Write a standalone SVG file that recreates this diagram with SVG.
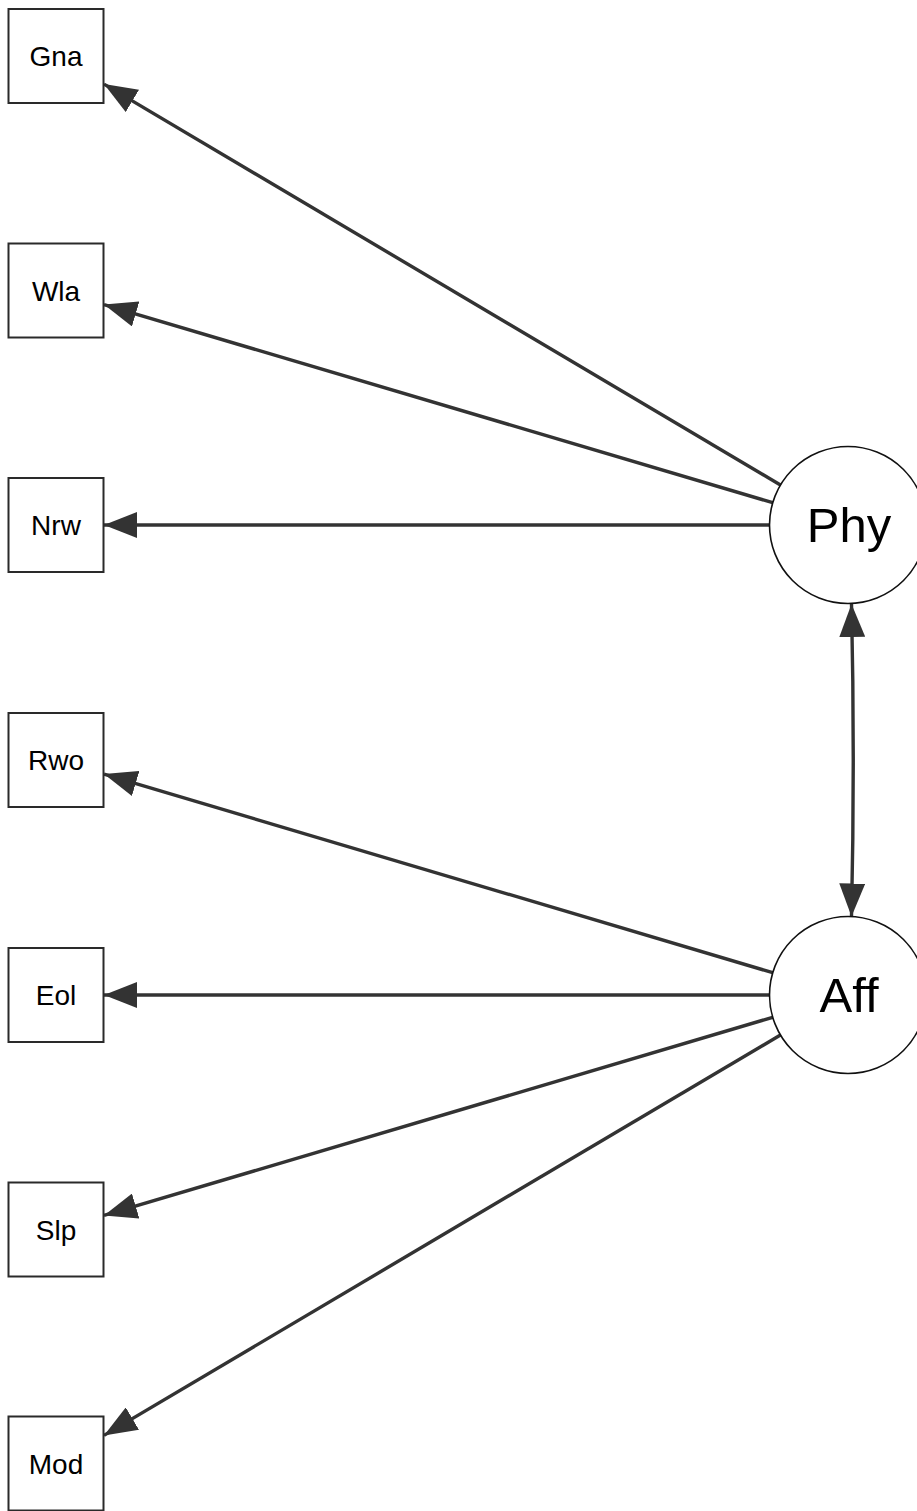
<svg xmlns="http://www.w3.org/2000/svg" width="917" height="1511" viewBox="0 0 917 1511">
<style>
.box{fill:#fff;stroke:#2a2a2a;stroke-width:2}
.lat{fill:#fff;stroke:#111;stroke-width:1.6}
.bl{font-family:"Liberation Sans",Arial,sans-serif;font-size:28px;fill:#000;text-anchor:middle}
.ll{font-family:"Liberation Sans",Arial,sans-serif;font-size:49px;fill:#000;text-anchor:middle}
.e{fill:none;stroke:#333;stroke-width:3.4;marker-end:url(#ah)}
</style>
<defs>
<marker id="ah" viewBox="0 0 33 26" markerWidth="33" markerHeight="26" markerUnits="userSpaceOnUse" refX="33" refY="13" orient="auto">
<path d="M0,0 L33,13 L0,26 z" fill="#333"/>
</marker>
<marker id="ahs" viewBox="0 0 33 26" markerWidth="33" markerHeight="26" markerUnits="userSpaceOnUse" refX="33" refY="13" orient="auto-start-reverse">
<path d="M0,0 L33,13 L0,26 z" fill="#333"/>
</marker>
</defs>
<g id="connectors">
<line class="e" x1="780.45" y1="485" x2="104" y2="84.1"/>
<line class="e" x1="772.7" y1="502.7" x2="104" y2="304.6"/>
<line class="e" x1="769.5" y1="525" x2="104" y2="525"/>
<line class="e" x1="772.7" y1="972.7" x2="104" y2="774.1"/>
<line class="e" x1="769.5" y1="995" x2="104" y2="995"/>
<line class="e" x1="772.7" y1="1017.3" x2="104" y2="1215.4"/>
<line class="e" x1="780.45" y1="1035" x2="104" y2="1435.4"/>
<path d="M851.5,604 Q855,760 851.5,916.5" fill="none" stroke="#333" stroke-width="3.4" marker-start="url(#ahs)" marker-end="url(#ahs)"/>
</g>
<g id="Gna"><rect class="box" x="8.5" y="9" width="95" height="94"/><text class="bl" x="56" y="66">Gna</text></g>
<g id="Wla"><rect class="box" x="8.5" y="243.5" width="95" height="94"/><text class="bl" x="56" y="300.5">Wla</text></g>
<g id="Nrw"><rect class="box" x="8.5" y="478" width="95" height="94"/><text class="bl" x="56" y="535">Nrw</text></g>
<g id="Rwo"><rect class="box" x="8.5" y="713" width="95" height="94"/><text class="bl" x="56" y="770">Rwo</text></g>
<g id="Eol"><rect class="box" x="8.5" y="948" width="95" height="94"/><text class="bl" x="56" y="1005">Eol</text></g>
<g id="Slp"><rect class="box" x="8.5" y="1182.5" width="95" height="94"/><text class="bl" x="56" y="1239.5">Slp</text></g>
<g id="Mod"><rect class="box" x="8.5" y="1416.5" width="95" height="94"/><text class="bl" x="56" y="1473.5">Mod</text></g>
<g id="Phy"><circle class="lat" cx="848" cy="525" r="78.5"/><text class="ll" x="849" y="542">Phy</text></g>
<g id="Aff"><circle class="lat" cx="848" cy="995" r="78.5"/><text class="ll" x="849" y="1012">Aff</text></g>
</svg>
